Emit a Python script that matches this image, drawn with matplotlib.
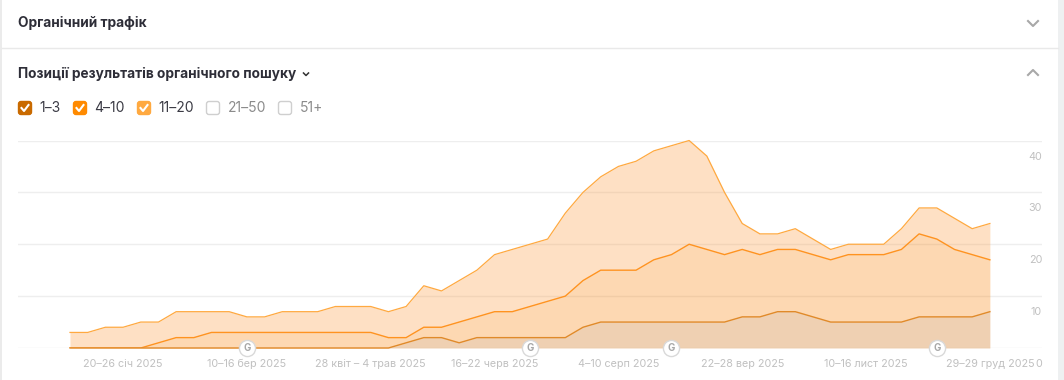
import matplotlib
matplotlib.use('Agg')
import matplotlib.pyplot as plt
from matplotlib.patches import FancyBboxPatch, Rectangle
from matplotlib.transforms import ScaledTranslation
import numpy as np

plt.rcParams['font.family'] = ['Inter', 'DejaVu Sans']

# cumulative heights of the stacked areas, one value per week
pos_1_3 = [0, 0, 0, 0, 0, 0, 0, 0, 0, 0, 0, 0, 0, 0, 0, 0, 0, 0, 0, 1, 2, 2, 1, 2, 2, 2, 2,
           2, 2, 4, 5, 5, 5, 5, 5, 5, 5, 5, 6, 6, 7, 7, 6, 5, 5, 5, 5, 5, 6, 6, 6, 6, 7]
pos_4_10 = [0, 0, 0, 0, 0, 1, 2, 2, 3, 3, 3, 3, 3, 3, 3, 3, 3, 3, 2, 2, 4, 4, 5, 6, 7, 7, 8,
            9, 10, 13, 15, 15, 15, 17, 18, 20, 19, 18, 19, 18, 19, 19, 18, 17, 18, 18, 18, 19, 22, 21, 19, 18, 17]
pos_11_20 = [3, 3, 4, 4, 5, 5, 7, 7, 7, 7, 6, 6, 7, 7, 7, 8, 8, 8, 7, 8, 12, 11, 13, 15, 18, 19, 20,
             21, 26, 30, 33, 35, 36, 38, 39, 40, 37, 30, 24, 22, 22, 23, 21, 19, 20, 20, 20, 23, 27, 27, 25, 23, 24]

tick_weeks = [3, 10, 17, 24, 31, 38, 45, 52]
tick_labels = ['20–26 січ 2025', '10–16 бер 2025', '28 квіт – 4 трав 2025', '16–22 черв 2025',
               '4–10 серп 2025', '22–28 вер 2025', '10–16 лист 2025', '29–29 груд 2025']
y_ticks = [0, 10, 20, 30, 40]
google_weeks = [10, 26, 34, 49]

legend_names = ['1–3', '4–10', '11–20', '21–50', '51+']
legend_box_x = [18, 73, 137, 206, 278]
legend_on = [True, True, True, False, False]
legend_colors = ['#c96a00', '#ff8a00', '#ffa940', '#ffffff', '#ffffff']

W, H = 1064, 380
fig = plt.figure(figsize=(W / 100, H / 100), dpi=100, facecolor='white')

# page parts are drawn in pixels
page = fig.add_axes([0, 0, 1, 1])
page.set_xlim(0, W)
page.set_ylim(H, 0)
page.axis('off')
page.add_patch(Rectangle((0, 0), 2, H, color='#ebebeb', lw=0))
page.add_patch(Rectangle((1058, 0), 6, H, color='#eef0f1', lw=0))
page.plot([2, 1058], [48, 48], color='#e9e9e9', lw=1)

page.text(18, 23, 'Органічний трафік', fontsize=9.85, fontweight='bold', color='#2e2e38', va='center')
page.text(18, 74, 'Позиції результатів органічного пошуку', fontsize=9.85, fontweight='bold', color='#2e2e38', va='center')

# chevrons
page.plot([1028, 1033, 1038], [21, 26, 21], color='#a8a8a8', lw=1.5)
page.plot([1028, 1033, 1038], [75, 70, 75], color='#a8a8a8', lw=1.5)
page.plot([303.5, 306, 308.5], [73, 75.5, 73], color='#333333', lw=1.1)

for name, x0, on, c in zip(legend_names, legend_box_x, legend_on, legend_colors):
    page.add_patch(FancyBboxPatch((x0 + 1, 102), 12, 12, boxstyle='round,pad=0.5,rounding_size=2.5',
                                  fc=c, ec=c if on else '#cfcfcf', lw=1))
    if on:
        page.plot([x0 + 3.5, x0 + 6, x0 + 10.5], [108, 111, 105], color='white', lw=1.5)
    page.text(x0 + 21.5, 108, name, fontsize=10, color='#3a3a44' if on else '#8b8b8b', va='center')

# chart
weeks = np.arange(len(pos_11_20))
ax = fig.add_axes([18 / W, 1 - 348 / H, (1042 - 18) / W, (348 - 140.5) / H])
ax.set_facecolor('none')
ax.set_xlim((18 - 70) / 17.69, (1042 - 70) / 17.69)
ax.set_ylim(0, 40)
ax.set_axisbelow(True)
ax.grid(True, axis='y', color='#eeeeee', lw=1)
for s in ax.spines.values():
    s.set_visible(False)

ax.fill_between(weeks, pos_4_10, pos_11_20, color='#fd9a3c', alpha=0.3, lw=0, clip_on=False)
ax.fill_between(weeks, pos_1_3, pos_4_10, color='#fa8000', alpha=0.3, lw=0)
ax.fill_between(weeks, 0, pos_1_3, color='#cc6600', alpha=0.3, lw=0)
ax.plot(weeks, pos_11_20, color='#ffa940', lw=0.9, clip_on=False)
ax.plot(weeks, pos_4_10, color='#ff9320', lw=1.0)
ax.plot(weeks, pos_1_3, color='#e08a2a', lw=1.0, clip_on=False)

ax.set_xticks(tick_weeks)
ax.set_xticklabels(tick_labels, fontsize=7.75, color='#c0c0c0')
ax.yaxis.tick_right()
ax.set_yticks(y_ticks)
ax.set_yticklabels([str(v) for v in y_ticks], fontsize=7.75, color='#c0c0c0', ha='right')
ax.tick_params(axis='both', length=0)
ax.tick_params(axis='x', pad=8)
ax.tick_params(axis='y', pad=0)
shift = ScaledTranslation(0, -15 / 100, fig.dpi_scale_trans)
for lab in ax.get_yticklabels():
    lab.set_transform(lab.get_transform() + shift)

# google update markers
ax.scatter(google_weeks, [0] * len(google_weeks), s=135, facecolor='white', edgecolor='#d9d9d9',
           linewidth=1, clip_on=False, zorder=5)
for g in google_weeks:
    ax.text(g, 0, 'G', fontsize=7, fontweight='bold', color='#a8a8a8', ha='center', va='center',
            clip_on=False, zorder=6)

fig.savefig('out.png', dpi=100)
